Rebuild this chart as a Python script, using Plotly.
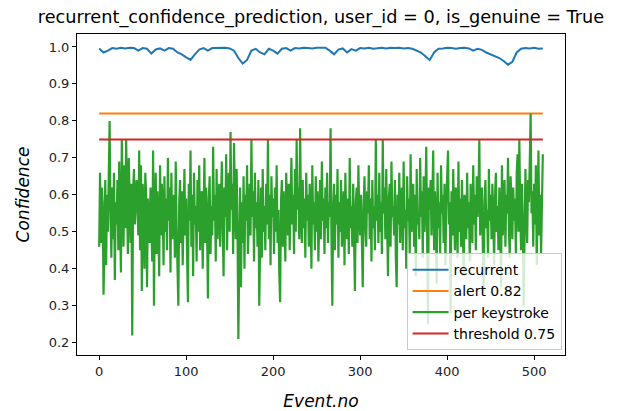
import plotly.graph_objects as go

# per keystroke confidence, event 0..510
per_keystroke = [
    0.46,0.66,0.47,0.62,0.58,0.33,0.45,0.64,0.41,0.60,0.50,0.71,0.80,0.55,0.43,0.62,0.48,0.66,0.37,0.58,
    0.52,0.64,0.45,0.69,0.56,0.39,0.75,0.58,0.46,0.68,0.51,0.75,0.62,0.44,0.70,0.55,0.47,0.63,0.22,0.61,
    0.67,0.52,0.58,0.64,0.56,0.49,0.72,0.45,0.68,0.34,0.63,0.57,0.40,0.66,0.60,0.35,0.59,0.54,0.47,0.62,
    0.55,0.42,0.72,0.30,0.58,0.66,0.44,0.61,0.52,0.38,0.68,0.49,0.63,0.57,0.41,0.65,0.50,0.59,0.45,0.70,
    0.53,0.62,0.39,0.66,0.48,0.57,0.60,0.43,0.69,0.51,0.36,0.30,0.58,0.64,0.47,0.61,0.41,0.55,0.67,0.49,
    0.59,0.44,0.31,0.63,0.53,0.72,0.46,0.60,0.38,0.66,0.52,0.57,0.42,0.64,0.50,0.68,0.45,0.58,0.61,0.40,
    0.55,0.70,0.47,0.62,0.51,0.32,0.59,0.65,0.44,0.57,0.49,0.73,0.53,0.60,0.42,0.67,0.48,0.56,0.63,0.46,
    0.58,0.69,0.51,0.38,0.62,0.54,0.71,0.45,0.60,0.66,0.50,0.77,0.56,0.63,0.44,0.74,0.59,0.48,0.67,0.52,
    0.21,0.55,0.62,0.35,0.58,0.47,0.65,0.40,0.60,0.53,0.68,0.44,0.57,0.63,0.49,0.75,0.54,0.61,0.42,0.66,
    0.51,0.58,0.46,0.64,0.30,0.55,0.62,0.43,0.67,0.50,0.57,0.45,0.63,0.52,0.75,0.48,0.60,0.41,0.65,0.54,
    0.59,0.44,0.62,0.50,0.68,0.47,0.56,0.39,0.31,0.58,0.64,0.46,0.61,0.53,0.42,0.66,0.55,0.49,0.63,0.45,
    0.58,0.70,0.52,0.60,0.44,0.67,0.50,0.75,0.56,0.62,0.48,0.78,0.55,0.47,0.64,0.51,0.59,0.43,0.66,0.53,
    0.60,0.46,0.63,0.55,0.40,0.68,0.52,0.58,0.45,0.65,0.50,0.61,0.42,0.57,0.64,0.48,0.69,0.53,0.59,0.44,
    0.62,0.51,0.66,0.47,0.58,0.54,0.78,0.49,0.30,0.56,0.63,0.45,0.60,0.52,0.67,0.43,0.58,0.50,0.64,0.46,
    0.55,0.61,0.41,0.66,0.53,0.48,0.59,0.44,0.70,0.51,0.57,0.46,0.63,0.50,0.34,0.58,0.62,0.47,0.68,0.54,
    0.49,0.60,0.43,0.35,0.57,0.65,0.52,0.46,0.61,0.55,0.68,0.48,0.59,0.42,0.64,0.51,0.57,0.45,0.75,0.53,
    0.60,0.47,0.66,0.50,0.58,0.44,0.75,0.55,0.62,0.48,0.67,0.52,0.38,0.59,0.63,0.46,0.69,0.54,0.57,0.49,
    0.64,0.43,0.35,0.60,0.52,0.66,0.47,0.58,0.62,0.45,0.69,0.51,0.56,0.40,0.65,0.53,0.59,0.44,0.71,0.50,
    0.57,0.63,0.46,0.60,0.38,0.67,0.52,0.55,0.48,0.70,0.54,0.61,0.43,0.65,0.50,0.58,0.73,0.47,0.25,0.62,
    0.56,0.64,0.49,0.59,0.72,0.45,0.61,0.53,0.36,0.66,0.51,0.58,0.44,0.68,0.55,0.60,0.47,0.63,0.41,0.57,
    0.65,0.72,0.52,0.58,0.28,0.61,0.49,0.67,0.54,0.45,0.62,0.57,0.43,0.69,0.50,0.59,0.46,0.64,0.53,0.38,
    0.60,0.55,0.48,0.66,0.51,0.58,0.42,0.63,0.56,0.47,0.68,0.52,0.60,0.45,0.65,0.54,0.59,0.75,0.49,0.57,
    0.62,0.46,0.33,0.58,0.64,0.51,0.56,0.43,0.67,0.53,0.60,0.48,0.63,0.55,0.41,0.59,0.66,0.50,0.57,0.45,
    0.62,0.54,0.35,0.68,0.49,0.58,0.64,0.46,0.60,0.55,0.70,0.51,0.43,0.65,0.57,0.48,0.62,0.53,0.59,0.44,
    0.66,0.71,0.50,0.75,0.56,0.45,0.63,0.52,0.30,0.60,0.67,0.54,0.47,0.64,0.58,0.69,0.82,0.55,0.61,0.46,
    0.63,0.52,0.68,0.41,0.57,0.72,0.49,0.60,0.44,0.55,0.71,
]
event_no = list(range(len(per_keystroke)))

# recurrent confidence, read every 5 events
recurrent = [
    0.996,0.985,0.990,0.997,0.995,0.998,0.996,0.998,0.997,0.990,
    0.997,0.995,0.982,0.993,0.996,0.990,0.997,0.995,0.985,0.980,
    0.972,0.965,0.980,0.993,0.997,0.990,0.997,0.998,0.997,0.998,
    0.996,0.990,0.970,0.955,0.965,0.990,0.995,0.985,0.980,0.995,
    0.990,0.982,0.995,0.997,0.990,0.997,0.996,0.998,0.997,0.996,
    0.998,0.997,0.998,0.990,0.980,0.993,0.996,0.985,0.994,0.990,
    0.997,0.996,0.998,0.995,0.997,0.998,0.996,0.998,0.997,0.998,
    0.996,0.997,0.995,0.990,0.985,0.975,0.965,0.985,0.995,0.996,
    0.998,0.997,0.995,0.997,0.998,0.996,0.990,0.995,0.992,0.985,
    0.980,0.975,0.970,0.962,0.952,0.960,0.985,0.995,0.997,0.996,
    0.998,0.995,0.996,
]
recurrent_x = [5 * i for i in range(len(recurrent))]

alert = 0.82
threshold = 0.75
x_ticks = [0, 100, 200, 300, 400, 500]
y_ticks = [0.2, 0.3, 0.4, 0.5, 0.6, 0.7, 0.8, 0.9, 1.0]

FONT = "DejaVu Sans"
fig = go.Figure()
fig.add_trace(go.Scatter(x=recurrent_x, y=recurrent, mode="lines", name="recurrent",
                         line=dict(color="#1f77b4", width=2)))
fig.add_trace(go.Scatter(x=[event_no[0], event_no[-1]], y=[alert, alert], mode="lines",
                         name="alert 0.82", line=dict(color="#ff7f0e", width=2)))
fig.add_trace(go.Scatter(x=event_no, y=per_keystroke, mode="lines", name="per keystroke",
                         line=dict(color="#2ca02c", width=2.2)))
fig.add_trace(go.Scatter(x=[event_no[0], event_no[-1]], y=[threshold, threshold], mode="lines",
                         name="threshold 0.75", line=dict(color="#d62728", width=2)))

axis_common = dict(showline=True, linecolor="black", linewidth=1, mirror=True,
                   ticks="outside", ticklen=4, tickcolor="black", showgrid=False,
                   zeroline=False, automargin=False,
                   tickfont=dict(family=FONT, size=13, color="#222"))
fig.update_xaxes(range=[-25.5, 535.5], tickvals=x_ticks,
                 title=dict(text="<i>Event.no</i>", font=dict(family=FONT, size=17, color="black"),
                            standoff=18), **axis_common)
fig.update_yaxes(range=[0.167, 1.035], tickvals=y_ticks, tickformat=".1f",
                 title=dict(text="<i>Confidence</i>", font=dict(family=FONT, size=17, color="black"),
                            standoff=14), **axis_common)

fig.update_layout(
    width=622, height=411,
    margin=dict(l=77, r=57, t=34, b=56),
    paper_bgcolor="white", plot_bgcolor="white",
    title=dict(text="recurrent_confidence_prediction, user_id = 0, is_genuine = True",
               x=0.5, xref="paper", xanchor="center", y=0.958, yanchor="middle",
               font=dict(family=FONT, size=17.7, color="black")),
    legend=dict(x=0.993, y=0.015, xanchor="right", yanchor="bottom",
                bgcolor="rgba(255,255,255,0.8)", bordercolor="#cccccc", borderwidth=1,
                font=dict(family=FONT, size=14, color="black"), tracegroupgap=0,
                itemwidth=36),
    showlegend=True,
)

fig.write_html("out.html")
